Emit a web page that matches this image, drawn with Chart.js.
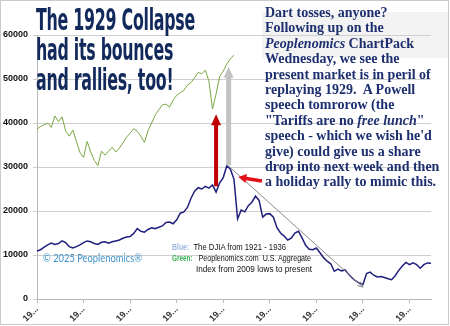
<!DOCTYPE html>
<html>
<head>
<meta charset="utf-8">
<script src="https://cdn.jsdelivr.net/npm/chart.js@4.4.1/dist/chart.umd.min.js"></script>
<style>
  html, body { margin: 0; padding: 0; background: #fff; }
  #wrap { position: relative; width: 450px; height: 326px; overflow: hidden; background: #fff; }
  #shade { position: absolute; left: 262px; top: 12px; width: 186px; height: 46px; background: #f3f3f3; }
  #chart { position: absolute; left: 0; top: 0; }
  #frame { position: absolute; left: 0; top: 0; width: 447px; height: 323px; border: 1px solid #cacaca; pointer-events: none; }
  .title { position: absolute; left: 36px; font-family: "DejaVu Sans", sans-serif; font-weight: bold; font-size: 30px;
           line-height: 30px; color: #12295c; white-space: nowrap; transform-origin: left top; letter-spacing: -0.5px; }
  #story { position: absolute; left: 265px; top: 5px; font-family: "Liberation Serif", serif; font-weight: bold;
           font-size: 14px; line-height: 15.4px; color: #1d2f6f; white-space: nowrap; }
  #copy { position: absolute; left: 43px; top: 251px; font-family: Lato, sans-serif; font-size: 11px; color: #3d92c8;
          white-space: nowrap; transform-origin: left top; }
  .note { position: absolute; font-family: "Liberation Sans", Arial, sans-serif; font-size: 9.5px;
          color: #111; white-space: nowrap; line-height: 10px; transform-origin: left top; }
  .key { font-weight: bold; font-size: 8.5px; }
</style>
</head>
<body>
<div id="wrap">
  <div id="shade"></div>
  <canvas id="chart" width="450" height="326"></canvas>
  <div class="title" style="top:5px">The 1929 Collapse</div>
  <div class="title" style="top:35px">had its bounces</div>
  <div class="title" style="top:65px">and rallies, too!</div>
  <div id="story">Dart tosses, anyone?<br>Following up on the<br><i>Peoplenomics</i> ChartPack<br>Wednesday, we see the<br>present market is in peril of<br>replaying 1929.&nbsp; A Powell<br>speech tomrorow (the<br>"Tariffs are no <i>free lunch</i>"<br>speech - which we wish he'd<br>give) could give us a share<br>drop into next week and then<br>a holiday rally to mimic this.</div>
  <div id="copy">© 2025 Peoplenomics®</div>
  <div class="note" id="n1" style="left:172px;top:242px"><span class="key" style="color:#9db8e2">Blue:</span>&nbsp; The DJIA from 1921 - 1936</div>
  <div class="note" id="n2" style="left:172px;top:253px"><span class="key" style="color:#3cb35c">Green:</span>&nbsp;&nbsp; Peoplenomics.com&nbsp; U.S. Aggregate</div>
  <div class="note" id="n3" style="left:196px;top:264px">Index from 2009 lows to present</div>
  <div id="frame"></div>
</div>
<script>
// Dow Jones Industrial Average, 1921 - 1936 (scaled), one value per sample
const djia = [
  10900, 11200, 11800, 12300, 12700, 12400, 12600, 13200, 12800, 11900,
  11600, 11900, 12300, 12800, 13200, 13000, 12600, 12400, 12900, 13000,
  12700, 13000, 13200, 13400, 13800, 14100, 14200, 14900, 16000, 15400,
  15200, 15800, 16200, 16000, 16300, 16600, 17400, 17500, 17100, 18000,
  19500, 19800, 20800, 22900, 24500, 25300, 25000, 25600, 25200, 25900,
  24300, 26400, 27600, 30300, 29500, 27200, 18200, 20200, 19800, 21200,
  22000, 23400, 22400, 18600, 19300, 19400, 18600, 16200, 15000, 14300,
  13400, 13800, 15000, 15400, 13900, 12200, 11300, 11200, 11600, 10500,
  9400, 8600, 8000, 6300, 6800, 6400, 6600, 5600, 4800, 4100,
  3600, 3300, 5800, 6100, 5400, 5000, 5100, 4900, 4600, 4400,
  5300, 6500, 7500, 8300, 7800, 8200, 7800, 7000, 7800, 8200,
  8100
];

// Peoplenomics.com U.S. Aggregate Index from the 2009 lows to the present
const aggregate = [
  38600, 39200, 39600, 40000, 39000, 41600, 40300, 41400, 38200, 37000,
  38400, 35800, 33300, 32200, 35800, 33400, 31500, 30300, 33600, 32700,
  33600, 34500, 33400, 34300, 35500, 36800, 37700, 38700, 38100, 37000,
  35600, 38300, 40000, 41800, 43000, 44100, 44300, 43600, 45200, 46300,
  46900, 47400, 48600, 49200, 50300, 51500, 51200, 52000, 49500, 43200,
  46600, 50600, 51800, 53400, 54600, 55400
];

// Sample positions along the shared time axis
const samples = djia.map((_, i) => String(i));

// Axis tick text, one every TICK_STEP samples
const TICK_STEP = 13;
const tickLabels = ['19...', '19...', '19...', '19...', '19...', '19...', '19...', '19...', '19...'];
const yTicks = { min: 0, max: 60000, step: 10000 };

// Annotation anchors in data units: [sample, value]
const riseArrow = { from: [50, 25600], to: [50, 42000] };
const peakArrow = { from: [53.5, 30400], to: [53.5, 52800] };
const pointerArrow = { from: [62.8, 26800], to: [56.2, 27700] };
const trendLine = { from: [53.5, 30200], to: [91.0, 2700] };

function drawArrow(ctx, x1, y1, x2, y2, shaftW, headW, headL, color) {
  const dx = x2 - x1, dy = y2 - y1;
  const len = Math.hypot(dx, dy);
  const ux = dx / len, uy = dy / len;
  const px = -uy, py = ux;
  const bx = x2 - ux * headL, by = y2 - uy * headL;
  ctx.save();
  ctx.fillStyle = color;
  ctx.beginPath();
  ctx.moveTo(x1 + px * shaftW / 2, y1 + py * shaftW / 2);
  ctx.lineTo(bx + px * shaftW / 2, by + py * shaftW / 2);
  ctx.lineTo(bx + px * headW / 2, by + py * headW / 2);
  ctx.lineTo(x2, y2);
  ctx.lineTo(bx - px * headW / 2, by - py * headW / 2);
  ctx.lineTo(bx - px * shaftW / 2, by - py * shaftW / 2);
  ctx.lineTo(x1 - px * shaftW / 2, y1 - py * shaftW / 2);
  ctx.closePath();
  ctx.fill();
  ctx.restore();
}

const annotations = {
  id: 'annotations',
  afterDatasetsDraw(chart) {
    const { ctx } = chart;
    const xs = chart.scales.x, ys = chart.scales.y;
    const pt = p => [xs.getPixelForValue(p[0]), ys.getPixelForValue(p[1])];

    // thin trend line from the peak to the trough with a small open head
    const [tx1, ty1] = pt(trendLine.from), [tx2, ty2] = pt(trendLine.to);
    const ang = Math.atan2(ty2 - ty1, tx2 - tx1);
    ctx.save();
    ctx.strokeStyle = '#8a8a8a';
    ctx.lineWidth = 1;
    ctx.beginPath();
    ctx.moveTo(tx1, ty1);
    ctx.lineTo(tx2, ty2);
    ctx.moveTo(tx2 - 6 * Math.cos(ang - 0.45), ty2 - 6 * Math.sin(ang - 0.45));
    ctx.lineTo(tx2, ty2);
    ctx.lineTo(tx2 - 6 * Math.cos(ang + 0.45), ty2 - 6 * Math.sin(ang + 0.45));
    ctx.stroke();
    ctx.restore();

    let a = pt(riseArrow.from), b = pt(riseArrow.to);
    drawArrow(ctx, a[0], a[1], b[0], b[1], 4, 10, 11, '#c00000');
    a = pt(peakArrow.from); b = pt(peakArrow.to);
    drawArrow(ctx, a[0], a[1], b[0], b[1], 5, 10, 11, '#c3c3c3');
    a = pt(pointerArrow.from); b = pt(pointerArrow.to);
    drawArrow(ctx, a[0], a[1], b[0], b[1], 3.5, 9, 8, '#e3101a');
  }
};

new Chart(document.getElementById('chart'), {
  type: 'line',
  data: {
    labels: samples,
    datasets: [
      { label: 'DJIA', data: djia, borderColor: '#1f1f7d', borderWidth: 1.5, pointRadius: 0, tension: 0 },
      { label: 'Aggregate', data: aggregate, borderColor: '#7aa843', borderWidth: 1, pointRadius: 0, tension: 0 }
    ]
  },
  options: {
    responsive: false,
    animation: false,
    events: [],
    layout: { padding: { left: 0, right: 19, top: 35, bottom: 0 } },
    plugins: { legend: { display: false }, tooltip: { enabled: false } },
    scales: {
      x: {
        type: 'category',
        offset: false,
        afterFit(scale) { scale.height = 27; },
        border: { color: '#b9b9b9', width: 1 },
        grid: { drawOnChartArea: false, drawTicks: true, tickLength: 4, color: '#b9b9b9' },
        ticks: {
          autoSkip: false, maxRotation: 45, minRotation: 45, padding: 1,
          color: '#333', font: { family: 'Liberation Sans, Arial, sans-serif', size: 9, weight: 'bold' },
          callback(value, index) {
            return index % TICK_STEP === 0 ? tickLabels[index / TICK_STEP] : null;
          }
        }
      },
      y: {
        min: yTicks.min, max: yTicks.max,
        afterFit(scale) { scale.width = 37; },
        border: { color: '#b9b9b9', width: 1 },
        grid: { color: '#cfcfcf', tickLength: 4, drawTicks: true },
        ticks: {
          stepSize: yTicks.step, padding: 5,
          color: '#111', font: { family: 'Liberation Sans, Arial, sans-serif', size: 9, weight: 'bold' },
          callback(value) { return String(value); }
        }
      }
    }
  },
  plugins: [annotations]
});

// squeeze text blocks into their set widths
function fitWidth(el, target) {
  const w = el.getBoundingClientRect().width;
  el.style.transform = 'scaleX(' + (target / w) + ')';
  return target / w;
}
(function () {
  const lines = document.querySelectorAll('.title');
  const s = 159 / lines[0].getBoundingClientRect().width;
  lines.forEach(el => { el.style.transform = 'scaleX(' + s + ')'; });
  fitWidth(document.getElementById('copy'), 99);
  fitWidth(document.getElementById('n1'), 114);
  fitWidth(document.getElementById('n2'), 139);
  fitWidth(document.getElementById('n3'), 116);
})();
</script>
</body>
</html>
